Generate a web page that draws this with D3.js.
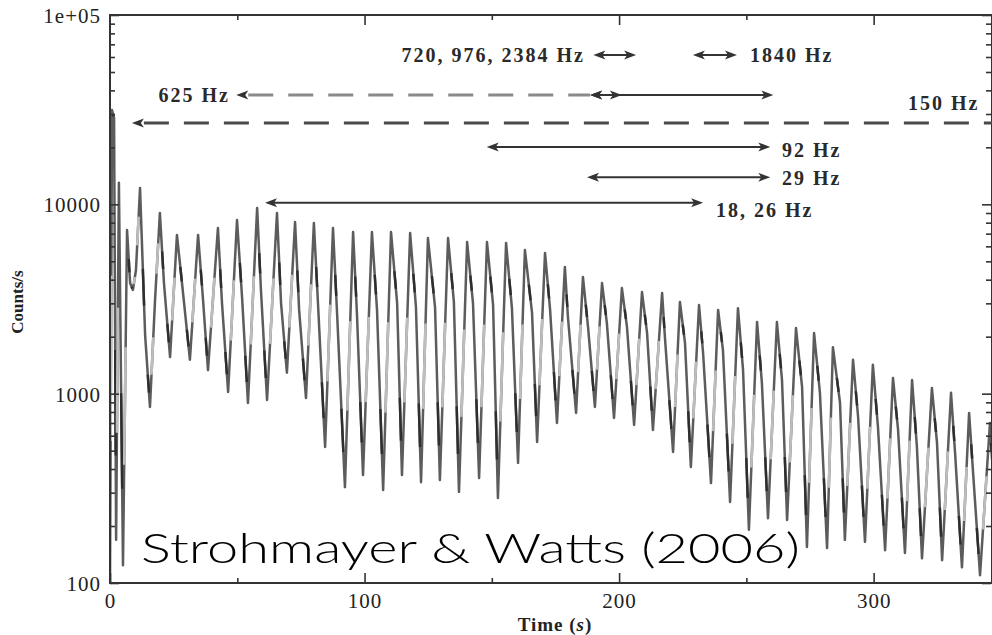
<!DOCTYPE html>
<html><head><meta charset="utf-8">
<script src="https://cdn.jsdelivr.net/npm/d3@7"></script>
<style>body{margin:0;background:#fff}svg{display:block}</style>
</head><body><svg id="c" width="992" height="635"></svg>
<script>
// ---- data ----
const lightCurveTime = [0,0.8,1.6,2.4,3.5,5.1,6.7,7.9,9.0,10.2,11.8,13.8,15.7,17.7,19.6,21.2,23.6,26.3,28.7,31.4,34.6,36.5,38.5,42.4,44.0,46.4,49.9,51.9,54.2,57.8,59.3,61.7,65.6,67.2,69.5,72.7,74.3,77.0,80.1,81.7,84.5,87.6,89.2,92.3,95.5,97.0,99.4,102.9,104.9,107.3,110.4,112.8,114.7,117.9,120.2,122.2,124.9,127.7,129.6,132.8,135.1,137.1,140.3,142.6,145.0,148.1,150.5,152.4,155.6,157.9,160.3,163.0,165.8,167.8,170.9,172.9,175.6,178.7,179.9,183.1,185.8,187.8,190.5,193.3,195.2,198.0,201.1,203.1,205.9,209.0,211.0,213.3,216.9,218.0,221.2,223.9,225.9,228.2,231.4,233.0,236.1,238.9,240.8,243.6,246.7,248.7,251.0,254.2,256.1,258.5,262.0,264.0,266.0,269.5,271.9,273.8,276.6,278.9,281.7,284.0,286.8,288.7,291.9,293.9,296.6,299.7,301.7,304.5,307.6,309.6,312.3,315.1,317.0,319.0,322.9,324.9,326.9,330.4,332.0,334.7,337.5,339.0,341.8,345.7,346.5];
const lightCurveCounts = [100,31500,28600,169,13000,124,7320,3840,3530,4500,12200,2040,851,3130,9000,3840,1560,6890,3400,1510,6890,3200,1330,7500,3010,1020,8260,3200,893,9570,3530,926,9000,3010,1290,8070,2770,948,7970,3010,523,7500,2670,321,7140,2670,372,7140,2770,310,7140,3010,372,7060,2860,341,6640,2860,350,6640,3050,303,6320,3010,359,6320,2940,281,6250,2830,431,5740,2670,556,5540,2770,700,4670,2540,791,4130,2250,851,3840,2360,744,3610,2250,683,3440,2090,643,3400,1990,492,3050,1850,410,2940,1640,337,2770,1700,268,2830,1330,191,2390,1140,220,2390,1180,215,2220,1080,155,2090,1010,153,1760,893,169,1510,753,165,1420,667,149,1210,643,144,1180,523,135,1070,549,132,1010,486,121,791,395,110,700,450];

const yTickValues = [100, 1000, 10000, 100000];
const yTickLabels = ["100", "1000", "10000", "1e+05"];
const xTickValues = [0, 100, 200, 300];
const xTickLabels = ["0", "100", "200", "300"];
const xMinorTicks = [50, 150, 250];

// annotation arrows (times in s, level in counts/s)
const segStart  = [189.9, 229.0, 49.6, 188.6, 188.6, 8.6, 148.0, 187.4, 60.9];
const segEnd    = [206.7, 246.3, 188.6, 260.6, 201.1, 346.5, 259.4, 259.4, 233.0];
const segLevel  = [61500, 61500, 37800, 37800, 37800, 26900, 20100, 13900, 10200];
const segDashed = [false, false, true, false, false, true, false, false, false];
const segHeadL  = [true, true, true, true, true, true, true, true, true];
const segHeadR  = [true, true, false, true, true, false, true, true, true];

const labelText   = ["720, 976, 2384 Hz", "1840 Hz", "625 Hz", "150 Hz", "92 Hz", "29 Hz", "18, 26 Hz"];
const labelTime   = [186.6, 251.4, 47.1, 313.5, 264.0, 264.0, 238.1];
const labelLevel  = [61500, 61500, 37800, 34300, 19400, 13800, 9330];
const labelAnchor = ["end", "start", "end", "start", "start", "start", "start"];

const creditText = "Strohmayer & Watts (2006)";

// ---- drawing ----
const svg = d3.select("#c");
const L = 110, R = 992, T = 15, B = 583;
const x = d3.scaleLinear().domain([0, 346.5]).range([L, R]);
const y = d3.scaleLog().domain([100, 100000]).range([B, T]);

svg.append("rect").attr("width", 992).attr("height", 635).attr("fill", "#fff");

svg.append("defs").append("clipPath").attr("id", "clip")
  .append("rect").attr("x", L).attr("y", T).attr("width", R - L).attr("height", B - T);

const pts = lightCurveTime.map((t, i) => [t, lightCurveCounts[i]]);
const line = d3.line().x(d => x(d[0])).y(d => y(d[1]));
const gc = svg.append("g").attr("clip-path", "url(#clip)");
gc.append("path").datum(pts)
  .attr("d", line).attr("fill", "none")
  .attr("stroke", "#5c5c5c").attr("stroke-width", 2.5).attr("stroke-linejoin", "round");
// lighter shading on the middle of each rising leg, darker near each fall
for (let i = 1; i < pts.length; i++) {
  const a = pts[i - 1], b = pts[i];
  const xa = x(a[0]), ya = y(a[1]), xb = x(b[0]), yb = y(b[1]);
  const up = b[1] > a[1];
  const f0 = up ? 0.3 : 0.55, f1 = up ? 0.65 : 0.8;
  gc.append("line")
    .attr("x1", xa + (xb - xa) * f0).attr("y1", ya + (yb - ya) * f0)
    .attr("x2", xa + (xb - xa) * f1).attr("y2", ya + (yb - ya) * f1)
    .attr("stroke", up ? "#bdbdbd" : "#2e2e2e").attr("stroke-width", up ? 2.6 : 2.4);
}

// minor y ticks
const yMinor = [];
[100, 1000, 10000].forEach(d => { for (let k = 2; k <= 9; k++) yMinor.push(d * k); });

const serif = "'Liberation Serif','DejaVu Serif',serif";
function styleAxis(g) {
  g.select(".domain").remove();
  g.selectAll(".tick line").attr("stroke", "#333").attr("stroke-width", 1.6);
  g.selectAll(".tick text").attr("font-family", serif).attr("font-size", 21)
    .attr("fill", "#222").attr("letter-spacing", 1);
}

const gl = svg.append("g").attr("transform", `translate(${L},0)`)
  .call(d3.axisLeft(y).tickValues(yTickValues).tickFormat((d, i) => yTickLabels[i]).tickSize(-9).tickSizeOuter(0).tickPadding(9));
styleAxis(gl);
gl.selectAll(".tick text").attr("dy", "0.35em");
const glm = svg.append("g").attr("transform", `translate(${L},0)`)
  .call(d3.axisLeft(y).tickValues(yMinor).tickFormat("").tickSize(-5).tickSizeOuter(0));
styleAxis(glm);

const gr = svg.append("g").attr("transform", `translate(${R - 1},0)`)
  .call(d3.axisRight(y).tickValues(yTickValues).tickFormat("").tickSize(-9).tickSizeOuter(0));
styleAxis(gr);
const grm = svg.append("g").attr("transform", `translate(${R - 1},0)`)
  .call(d3.axisRight(y).tickValues(yMinor).tickFormat("").tickSize(-5).tickSizeOuter(0));
styleAxis(grm);

const gb = svg.append("g").attr("transform", `translate(0,${B})`)
  .call(d3.axisBottom(x).tickValues(xTickValues).tickFormat((d, i) => xTickLabels[i]).tickSize(-10).tickSizeOuter(0).tickPadding(10));
styleAxis(gb);
const gbm = svg.append("g").attr("transform", `translate(0,${B})`)
  .call(d3.axisBottom(x).tickValues(xMinorTicks).tickFormat("").tickSize(-5).tickSizeOuter(0));
styleAxis(gbm);
const gt = svg.append("g").attr("transform", `translate(0,${T})`)
  .call(d3.axisTop(x).tickValues(xTickValues.filter(d => d > 0)).tickFormat("").tickSize(-10).tickSizeOuter(0));
styleAxis(gt);
const gtm = svg.append("g").attr("transform", `translate(0,${T})`)
  .call(d3.axisTop(x).tickValues(xMinorTicks).tickFormat("").tickSize(-5).tickSizeOuter(0));
styleAxis(gtm);

// frame
svg.append("rect").attr("x", L).attr("y", T).attr("width", R - L).attr("height", B - T)
  .attr("fill", "none").attr("stroke", "#333").attr("stroke-width", 2);

// axis titles
svg.append("text").attr("x", 555).attr("y", 631).attr("text-anchor", "middle")
  .attr("font-family", serif).attr("font-weight", "bold").attr("font-size", 19)
  .attr("letter-spacing", 1).attr("fill", "#222")
  .html('Time (<tspan font-style="italic">s</tspan>)');
svg.append("text").attr("transform", "translate(23,302) rotate(-90)").attr("text-anchor", "middle")
  .attr("font-family", serif).attr("font-weight", "bold").attr("font-size", 17)
  .attr("fill", "#222").text("Counts/s");

// annotations
const ga = svg.append("g");
function head(px, py, dir, col) {
  ga.append("path").attr("d", `M${px},${py} L${px - dir * 12},${py - 4.5} L${px - dir * 9},${py} L${px - dir * 12},${py + 4.5} Z`)
    .attr("fill", col);
}
segStart.forEach((s, i) => {
  const col = segDashed[i] ? (i === 2 ? "#8a8a8a" : "#4a4a4a") : "#333";
  const yy = y(segLevel[i]);
  const x1 = x(s), x2 = Math.min(x(segEnd[i]), R);
  ga.append("line").attr("x1", x1 + (segHeadL[i] ? 6 : 0)).attr("x2", x2 - (segHeadR[i] ? 6 : 0))
    .attr("y1", yy).attr("y2", yy).attr("stroke", col)
    .attr("stroke-width", segDashed[i] ? 3 : 2)
    .attr("stroke-dasharray", segDashed[i] ? "25,15" : null)
    .attr("stroke-dashoffset", segDashed[i] ? -6 : null);
  if (segHeadL[i]) head(x1, yy, -1, "#333");
  if (segHeadR[i]) head(x2, yy, 1, "#333");
});
labelText.forEach((t, i) => {
  ga.append("text").attr("x", x(labelTime[i])).attr("y", y(labelLevel[i]))
    .attr("dy", "0.35em").attr("text-anchor", labelAnchor[i])
    .attr("font-family", serif).attr("font-weight", "bold").attr("font-size", 20)
    .attr("letter-spacing", 2).attr("fill", "#2a2a2a").text(t);
});

// credit
svg.append("text").attr("x", 141).attr("y", 563)
  .attr("font-family", "Lato, 'Open Sans', sans-serif").attr("font-weight", 300)
  .attr("font-size", 42).attr("fill", "#000")
  .attr("textLength", 659).attr("lengthAdjust", "spacingAndGlyphs")
  .text(creditText);
</script></body></html>
